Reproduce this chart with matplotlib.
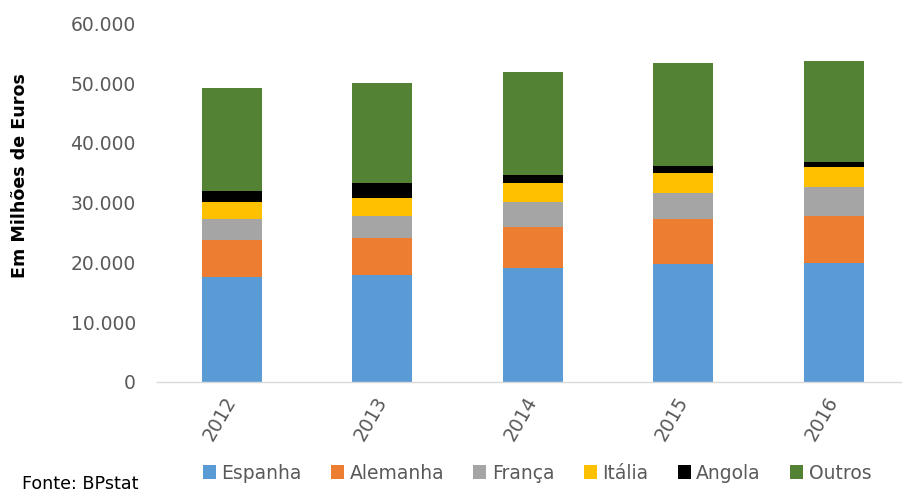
import matplotlib
matplotlib.use("Agg")
import matplotlib.pyplot as plt
from matplotlib.patches import Patch
from matplotlib.ticker import FuncFormatter
import numpy as np

# values in millions of euros
years = ["2012", "2013", "2014", "2015", "2016"]
espanha = [17460, 17850, 19070, 19690, 19860]
alemanha = [6250, 6250, 6820, 7540, 7930]
franca = [3470, 3690, 4240, 4410, 4860]
italia = [2950, 2910, 3090, 3300, 3300]
angola = [1740, 2520, 1390, 1230, 790]
outros = [17270, 16750, 17260, 17260, 16920]

series = [
    ("Espanha", espanha, "#5B9BD5"),
    ("Alemanha", alemanha, "#ED7D31"),
    ("França", franca, "#A5A5A5"),
    ("Itália", italia, "#FFC000"),
    ("Angola", angola, "#000000"),
    ("Outros", outros, "#548235"),
]

GREY = "#595959"
FS = 13.5

fig = plt.figure(figsize=(9.02, 4.94), dpi=100)
ax = fig.add_axes([0.1737, 0.2273, 0.834, 0.725])

x = np.arange(len(years))
bottom = np.zeros(len(years))
handles = []
for name, vals, col in series:
    ax.bar(x, vals, width=0.40, bottom=bottom, color=col, linewidth=0)
    bottom += np.array(vals)
    handles.append(Patch(facecolor=col, edgecolor="none", label=name))

ax.set_xlim(-0.5, len(years) - 0.5)
ax.set_ylim(0, 60000)
ax.set_yticks(np.arange(0, 60001, 10000))
ax.yaxis.set_major_formatter(
    FuncFormatter(lambda v, p: "{:,.0f}".format(v).replace(",", ".")))

for s in ["top", "right", "left"]:
    ax.spines[s].set_visible(False)
ax.spines["bottom"].set_color("#D9D9D9")
ax.spines["bottom"].set_linewidth(1.0)

ax.tick_params(axis="y", length=0, pad=15, labelsize=FS, labelcolor=GREY)
ax.set_xticks(x)
ax.set_xticklabels(years, rotation=60, ha="right", va="center",
                   rotation_mode="anchor")
ax.tick_params(axis="x", length=0, pad=12, labelsize=FS, labelcolor=GREY)

fig.text(20 / 902, 1 - 176 / 494, "Em Milhões de Euros", rotation=90,
         ha="center", va="center", fontsize=12.6, fontweight="bold",
         color="black")

fig.legend(handles=handles, loc="center", ncol=6,
           bbox_to_anchor=(537 / 902, 1 - 473 / 494), frameon=False,
           fontsize=FS, labelcolor=GREY, handlelength=0.7, handleheight=0.7,
           handletextpad=0.3, columnspacing=1.55, borderpad=0)

# source note in the bottom-left corner
fig.text(22 / 902, 0.002, "Fonte: BPstat", ha="left", va="bottom",
         fontsize=12.6, color="black")

fig.savefig("out.png", dpi=100)
